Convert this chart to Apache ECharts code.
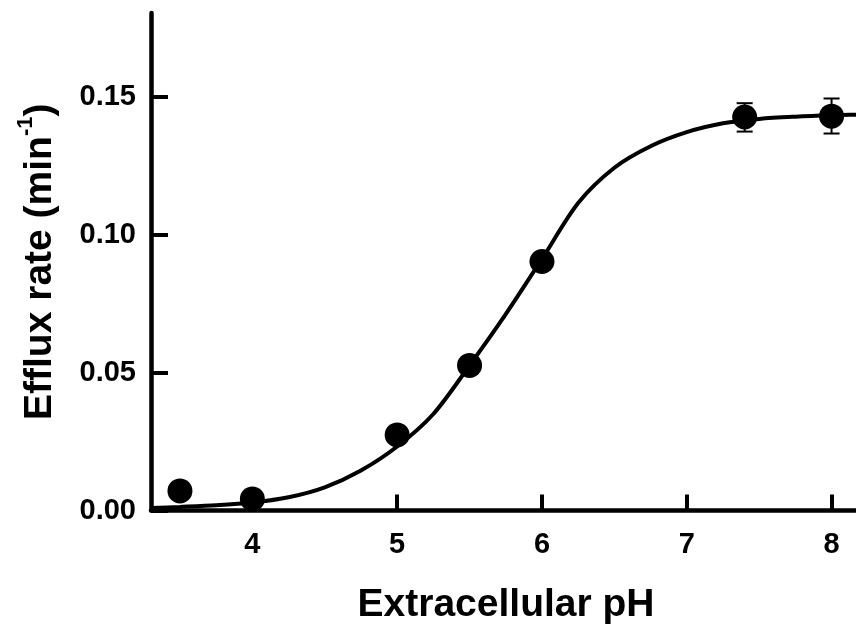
<!DOCTYPE html>
<html><head><meta charset="utf-8">
<script src="https://cdn.jsdelivr.net/npm/echarts@6/dist/echarts.min.js"></script>
<style>html,body{margin:0;padding:0;background:#fff}#c{width:856px;height:628px}</style>
</head><body><div id="c"></div>
<script>
// measured data points
const phValues = [3.5, 4, 5, 5.5, 6, 7.4, 8];
const effluxRates = [0.0071, 0.0042, 0.0274, 0.0526, 0.0903, 0.1427, 0.1430];
// error bars (SEM)
const errorPh = [7.4, 8];
const errorLow = [0.1374, 0.1367];
const errorHigh = [0.1477, 0.1494];
// fitted curve
const fitPh = [3.3, 3.5, 3.75, 4.0, 4.25, 4.5, 4.75, 5.0, 5.25, 5.5, 5.75, 6.0, 6.25, 6.5, 6.75, 7.0, 7.25, 7.5, 7.75, 8.0, 8.3];
const fitRate = [0.0009, 0.0013, 0.0019, 0.0029, 0.0048, 0.0084, 0.0145, 0.0232, 0.0350, 0.0526, 0.0712, 0.0912, 0.1115, 0.1243, 0.1321, 0.1372, 0.1404, 0.1420, 0.1428, 0.1433, 0.1437];
// tick labels
const xTickValues = [4, 5, 6, 7, 8];
const yTickValues = [0, 0.05, 0.10, 0.15];

const FONT = "'Liberation Sans', Arial, sans-serif";
const chart = echarts.init(document.getElementById('c'), null, {renderer: 'canvas'});

const errData = errorPh.map((x, i) => [x, errorLow[i], errorHigh[i]]);
const fitData = fitPh.map((x, i) => [x, fitRate[i]]);
const ptData = phValues.map((x, i) => [x, effluxRates[i]]);

chart.setOption({
  animation: false,
  backgroundColor: '#ffffff',
  grid: {left: 151, top: 13, bottom: 117.5, width: 724, containLabel: false, outerBoundsMode: 'none'},
  xAxis: {
    type: 'value', min: 3.3, max: 8.3,
    name: 'Extracellular pH', nameLocation: 'middle', nameGap: 75,
    nameTextStyle: {fontFamily: FONT, fontWeight: 'bold', fontSize: 39, color: '#000', padding: [0, 14, 0, 0]},
    axisLine: {show: true, onZero: false, lineStyle: {color: '#000', width: 4.5}},
    axisTick: {show: true, inside: true, length: 16, lineStyle: {color: '#000', width: 4}, customValues: xTickValues},
    axisLabel: {margin: 20, fontFamily: FONT, fontWeight: 'bold', fontSize: 29, color: '#000', customValues: xTickValues,
      formatter: v => String(v)},
    splitLine: {show: false}
  },
  yAxis: {
    type: 'value', min: 0, max: 0.1804,
    name: '{a|Efflux rate (min}{b|-1}{a|)}', nameLocation: 'middle', nameGap: 91, nameRotate: 90,
    nameTextStyle: {
      color: '#000',
      rich: {
        a: {fontFamily: FONT, fontWeight: 'bold', fontSize: 39, color: '#000', lineHeight: 47, verticalAlign: 'bottom'},
        b: {fontFamily: FONT, fontWeight: 'bold', fontSize: 22, color: '#000', lineHeight: 47, verticalAlign: 'top', padding: [2, 0, 0, 0]}
      }
    },
    axisLine: {show: true, onZero: false, lineStyle: {color: '#000', width: 4.5}},
    axisTick: {show: true, inside: true, length: 17, lineStyle: {color: '#000', width: 4}, customValues: yTickValues},
    axisLabel: {margin: 15, fontFamily: FONT, fontWeight: 'bold', fontSize: 29, color: '#000', customValues: yTickValues,
      formatter: v => v.toFixed(2)},
    splitLine: {show: false}
  },
  series: [
    {
      type: 'line', data: fitData, smooth: 0.3, showSymbol: false, symbol: 'none',
      lineStyle: {color: '#000', width: 4}, z: 2, silent: true
    },
    {
      type: 'custom', data: errData, z: 3, silent: true,
      renderItem: function (params, api) {
        const x = api.value(0);
        const lo = api.coord([x, api.value(1)]);
        const hi = api.coord([x, api.value(2)]);
        const hw = 8;
        const style = {stroke: '#000', lineWidth: 2};
        return {type: 'group', children: [
          {type: 'line', shape: {x1: lo[0], y1: lo[1], x2: hi[0], y2: hi[1]}, style: style},
          {type: 'line', shape: {x1: lo[0] - hw, y1: lo[1], x2: lo[0] + hw, y2: lo[1]}, style: style},
          {type: 'line', shape: {x1: hi[0] - hw, y1: hi[1], x2: hi[0] + hw, y2: hi[1]}, style: style}
        ]};
      }
    },
    {
      type: 'scatter', data: ptData, symbol: 'circle', symbolSize: 25, z: 4,
      itemStyle: {color: '#000', opacity: 1}, silent: true
    }
  ]
});
</script>
</body></html>
